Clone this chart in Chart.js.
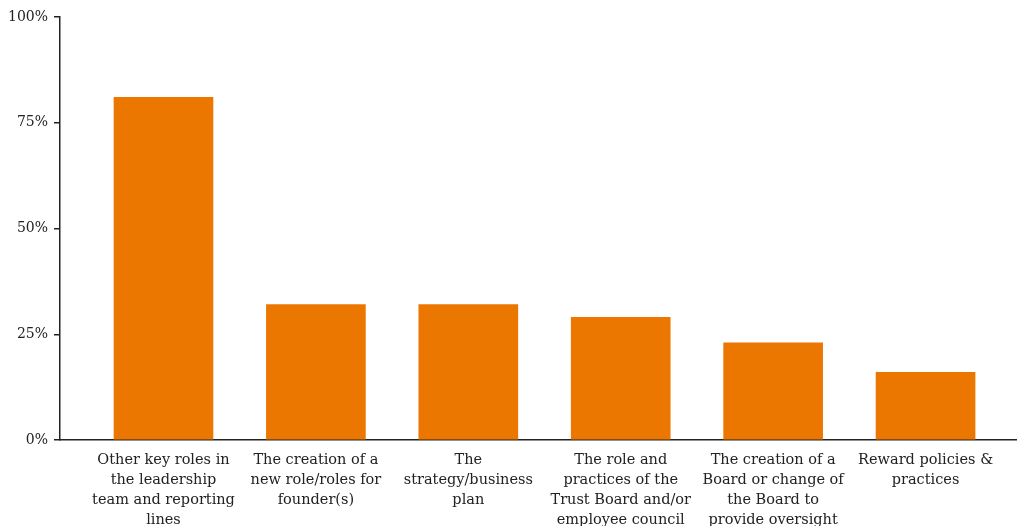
<!DOCTYPE html>
<html>
<head>
<meta charset="utf-8">
<script src="https://cdn.jsdelivr.net/npm/chart.js@4/dist/chart.umd.min.js"></script>
<style>
  html, body { margin: 0; padding: 0; background: #fff; overflow: hidden; }
  #wrap { width: 1017px; height: 526px; position: relative; }
</style>
</head>
<body>
<div id="wrap"><canvas id="changesChart"></canvas></div>
<script>
const categories = [
    ['Other key roles in', 'the leadership', 'team and reporting', 'lines'],
    ['The creation of a', 'new role/roles for', 'founder(s)'],
    ['The', 'strategy/business', 'plan'],
    ['The role and', 'practices of the', 'Trust Board and/or', 'employee council'],
    ['The creation of a', 'Board or change of', 'the Board to', 'provide oversight'],
    ['Reward policies &', 'practices']
];
const shares = [81, 32, 32, 29, 23, 16];
const yTicks = [0, 25, 50, 75, 100];

const barColor = '#EB7700';
const inkColor = '#222222';
const fontFamily = "'DejaVu Serif', Georgia, serif";

const points = shares.map((v, i) => ({ x: i, y: v }));

const ctx = document.getElementById('changesChart').getContext('2d');
new Chart(ctx, {
    type: 'bar',
    data: {
        datasets: [{
            label: 'Share',
            data: points,
            backgroundColor: barColor,
            borderWidth: 0,
            barThickness: 99
        }]
    },
    options: {
        responsive: true,
        maintainAspectRatio: false,
        animation: false,
        layout: {
            padding: { top: 17, right: 0, left: 0, bottom: 0 }
        },
        plugins: {
            legend: { display: false },
            tooltip: { enabled: false }
        },
        scales: {
            x: {
                type: 'linear',
                offset: false,
                min: -0.679,
                max: 5.60,
                afterFit: function(scale) { scale.height = 86; },
                afterBuildTicks: function(scale) {
                    scale.ticks = categories.map((c, i) => ({ value: i }));
                },
                grid: { display: false },
                border: { display: true, color: inkColor, width: 1.5 },
                ticks: {
                    autoSkip: false,
                    maxRotation: 0,
                    padding: 2,
                    color: inkColor,
                    font: { family: fontFamily, size: 14.5, lineHeight: 1.38 },
                    callback: function(value) {
                        return categories[value] || '';
                    }
                }
            },
            y: {
                min: 0,
                max: 100,
                afterFit: function(scale) { scale.width = 60; },
                afterBuildTicks: function(scale) {
                    scale.ticks = yTicks.map(v => ({ value: v }));
                },
                grid: {
                    drawOnChartArea: false,
                    drawTicks: true,
                    tickLength: 6,
                    color: inkColor,
                    lineWidth: 1.5
                },
                border: { display: true, color: inkColor, width: 1.5 },
                ticks: {
                    padding: 6,
                    color: inkColor,
                    font: { family: fontFamily, size: 14 },
                    callback: function(value) {
                        return value + '%';
                    }
                }
            }
        }
    }
});
</script>
</body>
</html>
